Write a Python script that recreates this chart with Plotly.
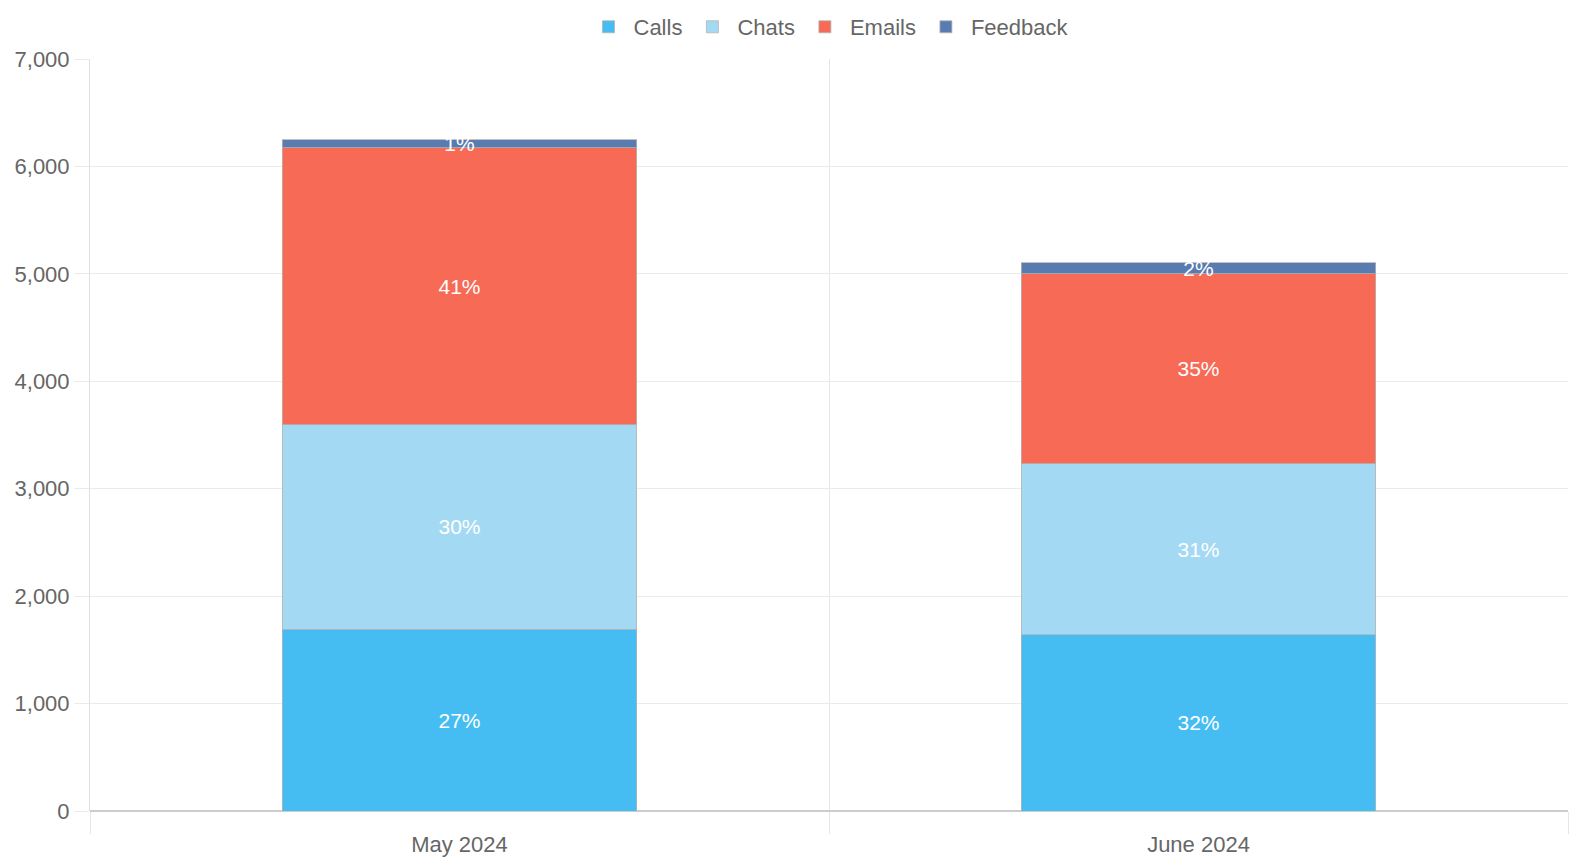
import plotly.graph_objects as go

months = ["May 2024", "June 2024"]
series_names = ["Calls", "Chats", "Emails", "Feedback"]
calls = [1694, 1639]
chats = [1900, 1592]
emails = [2579, 1769]
feedback = [75, 102]
colors = ["#45BDF3", "#A4D9F3", "#F76A55", "#587BB0"]
y_ticks = [0, 1000, 2000, 3000, 4000, 5000, 6000, 7000]

values = [calls, chats, emails, feedback]
totals = [sum(v[i] for v in values) for i in range(len(months))]

fig = go.Figure()
for name, vals, col in zip(series_names, values, colors):
    txt = [f"{round(100 * v / t)}%" for v, t in zip(vals, totals)]
    fig.add_trace(go.Bar(
        name=name, x=months, y=vals, marker=dict(color=col, line=dict(color="rgba(180,180,180,0.8)", width=1)),
        text=txt, textposition="inside", insidetextanchor="middle", constraintext="none",
        textfont=dict(color="white", size=21, family="Liberation Sans, Arial, sans-serif"),
        cliponaxis=False, hoverinfo="x+y+name",
    ))

fig.update_layout(
    barmode="stack", bargap=0.52,
    width=1573, height=867,
    margin=dict(l=90, r=5, t=59, b=56),
    paper_bgcolor="white", plot_bgcolor="white",
    font=dict(family="Liberation Sans, Arial, sans-serif", size=21, color="#666666"),
    legend=dict(orientation="h", x=0.5, xanchor="center", yref="container", y=1 - 6 / 867, yanchor="top",
                font=dict(size=22, color="#666666"), itemwidth=40, traceorder="normal"),
    showlegend=True,
)
fig.update_xaxes(
    type="category", tickson="boundaries", showgrid=True, gridcolor="#e6e6e6", gridwidth=1,
    ticks="outside", ticklen=22, tickcolor="#e6e6e6", showline=False, ticklabelstandoff=18,
    tickfont=dict(size=22, color="#666666"), zeroline=False, automargin=False,
)
fig.update_yaxes(
    range=[0, 7000], tickvals=y_ticks, tickformat=",", showgrid=True, gridcolor="#ebebeb", gridwidth=1,
    ticks="outside", ticklen=15, tickcolor="#ebebeb", showline=True, linecolor="#e0e0e0", linewidth=1,
    zeroline=True, zerolinecolor="#cccccc", zerolinewidth=2, automargin=False,
    tickfont=dict(size=22, color="#666666"),
)

fig.write_html("out.html", config={"displayModeBar": False},
               post_script="document.body.style.margin='0';document.body.style.overflow='hidden';")
